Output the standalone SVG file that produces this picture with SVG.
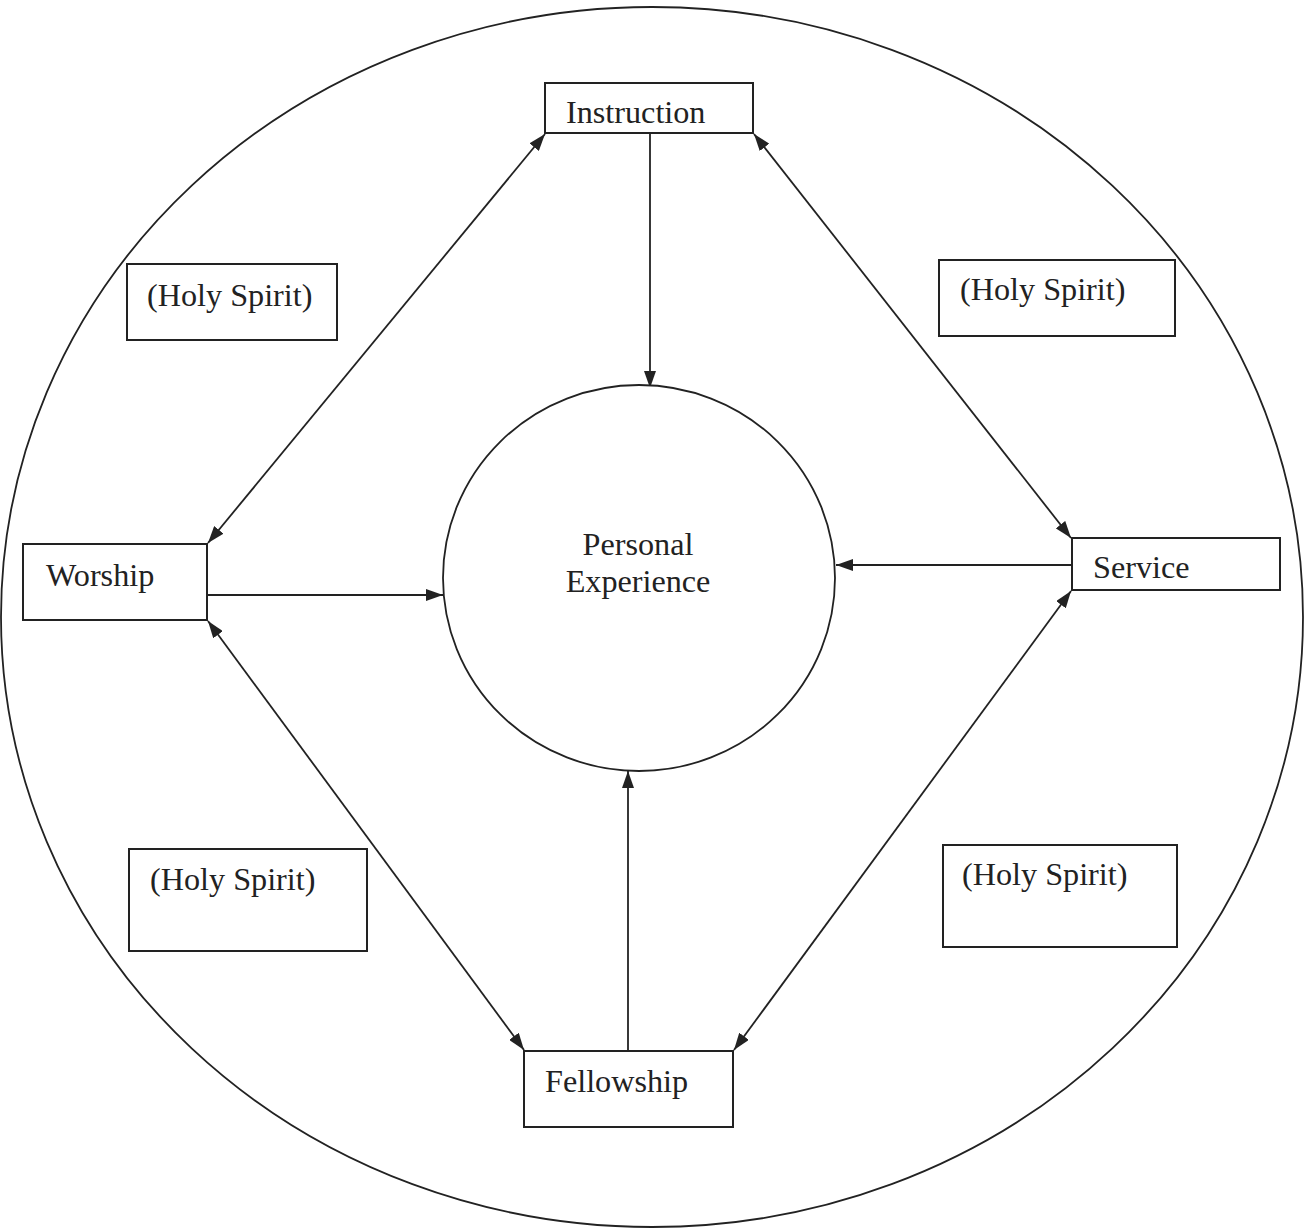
<svg xmlns="http://www.w3.org/2000/svg" width="1305" height="1230" viewBox="0 0 1305 1230">
<defs>
<style>
.box{fill:#fff;stroke:#222;stroke-width:2}
.lbl{font-family:"Liberation Serif","Times New Roman",serif;font-size:32.2px;fill:#222}
.con{fill:none;stroke:#222;stroke-width:1.8}
</style>
<marker id="ah" viewBox="0 0 17 12" refX="17" refY="6" markerWidth="17" markerHeight="12" markerUnits="userSpaceOnUse" orient="auto-start-reverse">
<path d="M0,0 L17,6 L0,12 Z" fill="#222"/>
</marker>
</defs>
<rect width="1305" height="1230" fill="#fff"/>
<g id="outer-circle">
<ellipse cx="652" cy="617" rx="651" ry="610" fill="none" stroke="#222" stroke-width="1.8"/>
</g>
<g id="connectors">
<line class="con" x1="650" y1="134" x2="650" y2="388" marker-end="url(#ah)"/>
<line class="con" x1="208" y1="595" x2="443" y2="595" marker-end="url(#ah)"/>
<line class="con" x1="1071" y1="565" x2="836" y2="565" marker-end="url(#ah)"/>
<line class="con" x1="628" y1="1050" x2="628" y2="771" marker-end="url(#ah)"/>
<line class="con" x1="545" y1="134" x2="208" y2="543" marker-start="url(#ah)" marker-end="url(#ah)"/>
<line class="con" x1="754" y1="134" x2="1071" y2="538" marker-start="url(#ah)" marker-end="url(#ah)"/>
<line class="con" x1="208" y1="621" x2="524" y2="1050" marker-start="url(#ah)" marker-end="url(#ah)"/>
<line class="con" x1="1071" y1="591" x2="734" y2="1050" marker-start="url(#ah)" marker-end="url(#ah)"/>
</g>
<g id="personal-experience">
<ellipse cx="639" cy="578" rx="196" ry="193" fill="#fff" stroke="#222" stroke-width="1.8"/>
<text class="lbl" x="638" y="555" text-anchor="middle">Personal</text>
<text class="lbl" x="638" y="592" text-anchor="middle">Experience</text>
</g>
<g id="instruction">
<rect class="box" x="545" y="83" width="208" height="50"/>
<text class="lbl" x="566" y="123">Instruction</text>
</g>
<g id="worship">
<rect class="box" x="23" y="544" width="184" height="76"/>
<text class="lbl" x="46" y="586">Worship</text>
</g>
<g id="service">
<rect class="box" x="1072" y="538" width="208" height="52"/>
<text class="lbl" x="1093" y="578">Service</text>
</g>
<g id="fellowship">
<rect class="box" x="524" y="1051" width="209" height="76"/>
<text class="lbl" x="545" y="1092">Fellowship</text>
</g>
<g id="holy-spirit-tl">
<rect class="box" x="127" y="264" width="210" height="76"/>
<text class="lbl" x="147" y="306">(Holy Spirit)</text>
</g>
<g id="holy-spirit-tr">
<rect class="box" x="939" y="260" width="236" height="76"/>
<text class="lbl" x="960" y="300">(Holy Spirit)</text>
</g>
<g id="holy-spirit-bl">
<rect class="box" x="129" y="849" width="238" height="102"/>
<text class="lbl" x="150" y="890">(Holy Spirit)</text>
</g>
<g id="holy-spirit-br">
<rect class="box" x="943" y="845" width="234" height="102"/>
<text class="lbl" x="962" y="885">(Holy Spirit)</text>
</g>
</svg>
